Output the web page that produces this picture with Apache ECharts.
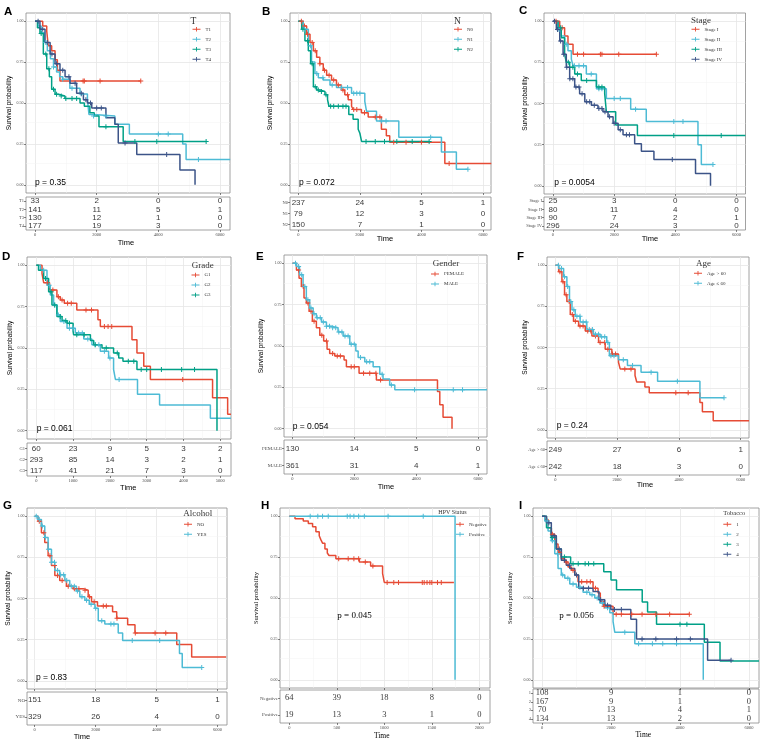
<!DOCTYPE html>
<html><head><meta charset="utf-8">
<script src="https://cdn.jsdelivr.net/npm/echarts@6/dist/echarts.min.js"></script>
<style>html,body{margin:0;padding:0;background:#fff}#c{width:760px;height:741px}</style>
</head><body><div id="c"></div>
<script>
// ---------------- DATA ----------------
const Y_TICKS = [0, 0.25, 0.5, 0.75, 1];
const T6000 = [0, 2000, 4000, 6000];
const T5000 = [0, 1000, 2000, 3000, 4000, 5000];
const T2000 = [0, 500, 1000, 1500, 2000];

// A: T
const A_groups = ['T1', 'T2', 'T3', 'T4'];
const A_T1 = [[0,1],[250,0.97],[380,0.94],[430,0.85],[540,0.82],[650,0.765],[725,0.70],[810,0.634],[3430,0.634]];
const A_T2 = [[0,1],[100,0.97],[200,0.93],[300,0.87],[400,0.82],[500,0.77],[600,0.72],[700,0.69],[800,0.66],[900,0.645],[1130,0.59],[1460,0.555],[1700,0.52],[1750,0.43],[1900,0.42],[2590,0.37],[3060,0.31],[4790,0.25],[4900,0.155],[6330,0.155]];
const A_T3 = [[0,1],[80,0.96],[160,0.925],[270,0.80],[380,0.71],[465,0.66],[540,0.584],[650,0.553],[760,0.543],[970,0.527],[1460,0.50],[1600,0.48],[1780,0.44],[1920,0.42],[2075,0.355],[2860,0.265],[5550,0.265]];
const A_T4 = [[0,1],[160,0.95],[325,0.87],[490,0.80],[650,0.74],[810,0.70],[975,0.66],[1135,0.62],[1350,0.56],[1570,0.52],[1700,0.50],[1840,0.47],[2300,0.41],[2590,0.37],[2700,0.255],[3300,0.185],[4700,0.09],[5190,0]];
const A_T1_c = [1560,1600,2110,3430];
const A_T2_c = [350,600,900,1200,1500,1900,2300,4000,4320,5300];
const A_T3_c = [200,350,450,600,700,850,1000,1200,1350,2300,3240,3950,5550];
const A_T4_c = [100,250,400,550,700,900,1100,1300,1500,1650,1800,2000,2150,2920,4270];
const A_risk = [[33,2,0,0],[141,11,5,1],[130,12,1,0],[177,19,3,0]];

// B: N
const B_groups = ['N0', 'N1', 'N2'];
const B_N0 = [[0,1],[160,0.97],[270,0.92],[380,0.87],[490,0.82],[595,0.78],[700,0.74],[810,0.70],[920,0.67],[1080,0.64],[1240,0.61],[1400,0.58],[1510,0.55],[1620,0.52],[1730,0.48],[1780,0.46],[2050,0.44],[2270,0.415],[2700,0.34],[2860,0.30],[2970,0.26],[4760,0.13],[6270,0.13]];
const B_N1 = [[0,1],[160,0.95],[325,0.85],[430,0.75],[540,0.68],[650,0.655],[810,0.64],[1030,0.61],[1240,0.595],[1730,0.56],[2160,0.51],[2215,0.45],[2540,0.39],[3265,0.29],[4650,0.20],[5135,0.095],[5510,0.095]];
const B_N2 = [[0,1],[110,0.95],[215,0.88],[325,0.82],[400,0.74],[490,0.60],[595,0.58],[700,0.57],[865,0.55],[950,0.52],[995,0.48],[1640,0.43],[1780,0.40],[1945,0.34],[2000,0.315],[2055,0.265],[4250,0.265]];
const B_N0_c = [100,200,300,450,550,700,850,1000,1150,1300,1450,1600,1800,1900,2150,2500,2650,3100,3500,4000,4900];
const B_N1_c = [200,400,600,800,1100,1400,1600,1800,1900,2000,2700,2850,4300,5510];
const B_N2_c = [150,300,450,550,650,750,900,1050,1150,1300,1450,1550,2200,2500,2800,3200,3700,4250];
const B_risk = [[237,24,5,1],[79,12,3,0],[150,7,1,0]];

// C: Stage
const C_groups = ['Stage I', 'Stage II', 'Stage III', 'Stage IV'];
const C_S1 = [[0,1],[220,0.96],[380,0.91],[490,0.86],[655,0.80],[3380,0.80]];
const C_S2 = [[0,1],[165,0.95],[270,0.91],[380,0.86],[490,0.82],[600,0.77],[655,0.73],[1090,0.68],[1420,0.59],[1745,0.53],[2540,0.465],[3050,0.39],[4740,0.25],[4850,0.13],[5230,0.13]];
const C_S3 = [[0,1],[165,0.96],[270,0.90],[380,0.80],[435,0.75],[545,0.72],[710,0.68],[925,0.64],[1420,0.60],[1690,0.56],[1745,0.45],[2050,0.37],[2760,0.305],[6290,0.305]];
const C_S4 = [[0,1],[110,0.95],[220,0.88],[330,0.80],[435,0.72],[545,0.65],[710,0.60],[870,0.56],[1040,0.51],[1255,0.49],[1470,0.47],[1635,0.45],[1800,0.42],[1965,0.38],[2130,0.34],[2290,0.31],[2670,0.255],[2890,0.21],[3300,0.16],[4660,0.075],[5150,0]];
const C_S1_c = [100,300,800,1000,1550,1600,2150,3380];
const C_S2_c = [200,450,700,850,1000,1250,1500,1600,2000,2200,2700,3950,4250,5230];
const C_S3_c = [250,500,650,800,1100,1500,1600,3950,5500];
const C_S4_c = [50,150,250,350,450,550,650,750,850,950,1100,1200,1350,1500,1600,1700,1850,2000,2200,2400,2500,3900];
const C_risk = [[25,3,0,0],[80,11,4,0],[90,7,2,1],[296,24,3,0]];

// D: Grade
const D_groups = ['G1', 'G2', 'G3'];
const D_G1 = [[0,1],[155,0.95],[200,0.895],[360,0.85],[560,0.81],[650,0.79],[760,0.77],[1100,0.73],[1675,0.67],[1740,0.63],[2600,0.55],[2735,0.47],[2920,0.39],[3100,0.31],[4790,0.20],[5200,0.10],[5290,0.10]];
const D_G2 = [[0,1],[110,0.97],[290,0.88],[380,0.82],[470,0.76],[560,0.70],[650,0.66],[835,0.62],[1060,0.59],[1290,0.555],[1510,0.52],[1740,0.48],[1965,0.44],[2100,0.37],[2150,0.31],[2750,0.22],[3350,0.155],[4730,0.075],[5290,0.075]];
const D_G3 = [[0,1],[60,0.97],[200,0.92],[335,0.84],[425,0.76],[560,0.69],[700,0.665],[835,0.65],[1000,0.60],[1015,0.58],[1470,0.545],[1560,0.52],[1785,0.50],[2100,0.47],[2240,0.44],[2355,0.42],[2735,0.37],[4910,0]];
const D_G1_c = [300,450,600,700,850,950,1350,1500,1850,1950,2050,3980];
const D_G2_c = [200,350,500,600,750,900,1000,1150,1250,1400,1600,1700,1850,2000,2250];
const D_G3_c = [250,400,500,650,800,900,1100,1300,1600,1900,2200,2500,2650,2850,3000,3400,3950,4300];
const D_risk = [[60,23,9,5,3,2],[293,85,14,3,2,1],[117,41,21,7,3,0]];

// E: Gender
const E_groups = ['FEMALE', 'MALE'];
const E_F = [[0,1],[130,0.96],[215,0.91],[290,0.86],[375,0.79],[450,0.76],[540,0.71],[645,0.65],[775,0.61],[885,0.565],[1010,0.53],[1120,0.48],[1205,0.455],[1370,0.44],[1670,0.415],[1745,0.375],[2155,0.335],[2715,0.295],[4690,0.225],[4765,0.145],[4870,0.07],[5160,0]];
const E_M = [[0,1],[130,0.98],[230,0.93],[345,0.86],[450,0.78],[560,0.73],[670,0.695],[775,0.67],[940,0.645],[1100,0.62],[1260,0.61],[1475,0.585],[1640,0.56],[1855,0.51],[2050,0.47],[2125,0.43],[2340,0.405],[2610,0.375],[2825,0.33],[2930,0.30],[3145,0.265],[3310,0.235],[6290,0.235]];
const E_F_c = [200,350,500,600,700,950,1100,1300,1450,1550,1900,2000,2300,2500,2700,2850];
const E_M_c = [100,200,300,400,500,600,700,800,900,1000,1100,1200,1300,1400,1500,1600,1700,1800,1900,2000,2200,2400,2500,2900,3200,3950,5200,5500];
const E_risk = [[130,14,5,0],[361,31,4,1]];

// F: Age
const F_groups = ['Age > 60', 'Age \u2264 60'];
const F_O = [[0,1],[110,0.96],[215,0.90],[300,0.82],[375,0.78],[485,0.70],[590,0.66],[755,0.63],[970,0.60],[1185,0.57],[1400,0.53],[1615,0.49],[1830,0.46],[2045,0.41],[2100,0.37],[2580,0.33],[2635,0.29],[2900,0.26],[3040,0.225],[4680,0.165],[4760,0.11],[5110,0.055],[6270,0.055]];
const F_Y = [[0,1],[110,0.98],[270,0.93],[375,0.87],[460,0.78],[540,0.73],[645,0.69],[805,0.655],[1020,0.61],[1235,0.58],[1450,0.565],[1665,0.53],[1750,0.45],[2045,0.425],[2335,0.39],[2775,0.35],[3310,0.295],[4680,0.195],[5460,0.195]];
const F_O_c = [150,250,350,450,550,650,800,900,1050,1150,1300,1450,1600,1700,1850,1950,2250,2450,3900,4300];
const F_Y_c = [100,200,300,400,500,600,700,800,900,1000,1100,1200,1300,1400,1500,1600,1700,1800,1900,2200,2500,3100,3950,5460];
const F_risk = [[249,27,6,1],[242,18,3,0]];

// G: Alcohol
const G_groups = ['NO', 'YES'];
const G_N = [[0,1],[110,0.97],[220,0.90],[330,0.84],[440,0.76],[550,0.70],[660,0.64],[820,0.61],[1040,0.575],[1260,0.56],[1590,0.55],[1755,0.51],[1865,0.48],[2060,0.455],[2555,0.42],[2690,0.38],[3050,0.34],[3290,0.29],[4660,0.22],[5150,0.145],[6280,0.145]];
const G_Y = [[0,1],[110,0.98],[220,0.94],[330,0.87],[440,0.80],[550,0.72],[660,0.67],[820,0.645],[990,0.61],[1150,0.575],[1370,0.545],[1480,0.51],[1645,0.49],[1790,0.465],[1975,0.44],[2085,0.365],[2300,0.345],[2740,0.29],[2885,0.245],[4750,0.165],[4840,0.08],[5480,0.08]];
const G_N_c = [150,300,500,650,750,900,1100,1300,1450,1650,1800,1950,2250,2350,2700,3300,3950,4300];
const G_Y_c = [50,150,250,350,450,550,650,750,850,950,1050,1200,1300,1400,1550,1700,1850,2000,2200,2500,2600,3200,4100,5480];
const G_risk = [[151,18,5,1],[329,26,4,0]];

// H: HPV Status
const H_groups = ['Negative', 'Positive'];
const H_Neg = [[0,1],[60,0.985],[147,0.97],[200,0.955],[245,0.935],[280,0.905],[315,0.88],[333,0.855],[350,0.835],[375,0.80],[400,0.775],[418,0.76],[490,0.74],[737,0.72],[856,0.695],[982,0.65],[1000,0.595],[1733,0.595]];
const H_Pos = [[0,1],[1745,0]];
const H_Neg_c = [520,620,680,730,800,880,1030,1100,1150,1400,1420,1450,1480,1500,1560,1600];
const H_Pos_c = [220,300,350,410,610,640,680,730,790,1040,1410];
const H_risk = [[64,39,18,8,0],[19,13,3,1,0]];

// I: Tobacco
const I_groups = ['1', '2', '3', '4'];
const I_1 = [[0,1],[80,0.98],[175,0.93],[270,0.89],[370,0.83],[465,0.78],[560,0.74],[660,0.72],[755,0.69],[850,0.67],[950,0.64],[1045,0.60],[1480,0.56],[1625,0.53],[1690,0.48],[1780,0.45],[2060,0.40],[4270,0.40]];
const I_2 = [[0,1],[80,0.97],[175,0.91],[270,0.85],[370,0.77],[465,0.68],[560,0.64],[660,0.62],[805,0.585],[1000,0.565],[1190,0.535],[1385,0.52],[1530,0.50],[1675,0.47],[1820,0.44],[1965,0.41],[2060,0.355],[2110,0.29],[2690,0.22],[4675,0]];
const I_3 = [[0,1],[130,0.93],[270,0.87],[415,0.80],[560,0.75],[830,0.71],[1790,0.66],[2000,0.61],[2160,0.55],[2905,0.475],[3060,0.415],[3320,0.34],[4705,0.23],[5160,0.115],[6290,0.115]];
const I_4 = [[0,1],[130,0.96],[270,0.88],[415,0.80],[560,0.73],[705,0.70],[805,0.68],[950,0.64],[1065,0.56],[1480,0.54],[1650,0.49],[1820,0.455],[1995,0.43],[2575,0.37],[2740,0.25],[4800,0.12],[5480,0.12]];
const I_1_c = [300,500,700,900,1150,1300,1400,1550,1800,2150,2300,2600,2900,3300,3700,4270];
const I_2_c = [150,300,450,600,750,900,1100,1300,1450,1600,1750,1900,2400,2800,3200,3500,3900];
const I_3_c = [300,650,900,1050,1250,1350,1500,4000,4200];
const I_4_c = [200,350,500,650,800,1000,1200,1350,1700,1900,2100,2300,2900,3300,3900,4300,5480];
const I_risk = [[108,9,1,0],[167,9,1,0],[70,13,4,1],[134,13,2,0]];

// ---------------- STYLE / LAYOUT ----------------
const COLORS = ['#E64B35', '#4DBBD5', '#00A087', '#3C5488'];
const SANS = '"Liberation Sans", Arial, sans-serif';
const SERIF = '"Liberation Serif", "Times New Roman", serif';
const BORDER = '#8a8a8a';
const PLUS = 'path://M4,0H6V4H10V6H6V10H4V6H0V4H4Z';
const LEG_ICON = 'path://M0,4H18V6H0Z M8,0H10V10H8Z';

const panels = [
  {letter:'A', lpos:[4,6], plot:[26,13,204,180], table:[26,197,204,33], x:[-292,6324], ticks:T6000,
   title:'T', tpos:[190.5,21.7], tsize:9.5, leg:[192.5,26.3], groups:A_groups,
   curves:[A_T1,A_T2,A_T3,A_T4], cens:[A_T1_c,A_T2_c,A_T3_c,A_T4_c], risk:A_risk,
   p:'p = 0.35', ppos:[35,182.7], ylab:[9,103], time:[126,242.7], serif:false, rowFont:4.5},
  {letter:'B', lpos:[262,6], plot:[290,13,201,180], table:[290,197,201,33], x:[-270,6260], ticks:T6000,
   title:'N', tpos:[454,21.7], tsize:9.5, leg:[454,26.3], groups:B_groups,
   curves:[B_N0,B_N1,B_N2], cens:[B_N0_c,B_N1_c,B_N2_c], risk:B_risk,
   p:'p = 0.072', ppos:[299,182.7], ylab:[270.7,103], time:[385,239.3], serif:false, rowFont:4.5},
  {letter:'C', lpos:[519,5], plot:[544,13,201.5,181], table:[544,197,201.5,33], x:[-294,6294], ticks:T6000,
   title:'Stage', tpos:[691,20.7], tsize:9, leg:[691.5,26.3], groups:C_groups,
   curves:[C_S1,C_S2,C_S3,C_S4], cens:[C_S1_c,C_S2_c,C_S3_c,C_S4_c], risk:C_risk,
   p:'p = 0.0054', ppos:[554.3,182.7], ylab:[525.7,103.5], time:[650,239.3], serif:false, rowFont:4.5},
  {letter:'D', lpos:[2,251], plot:[27,257,204,182], table:[27,443,204,33], x:[-253,5291], ticks:T5000,
   title:'Grade', tpos:[191.7,265.7], tsize:9, leg:[191.5,272], groups:D_groups,
   curves:[D_G1,D_G2,D_G3], cens:[D_G1_c,D_G2_c,D_G3_c], risk:D_risk,
   p:'p = 0.061', ppos:[36.7,429], ylab:[10,348], time:[128.3,487.7], serif:false, rowFont:4.5},
  {letter:'E', lpos:[256,251], plot:[284,255,203,182], table:[284,440,203,34], x:[-272,6291], ticks:T6000,
   title:'Gender', tpos:[432.7,263.3], tsize:9, leg:[431,271], groups:E_groups,
   curves:[E_F,E_M], cens:[E_F_c,E_M_c], risk:E_risk,
   p:'p = 0.054', ppos:[292.7,426.7], ylab:[261.7,346], time:[386,486.7], serif:false, rowFont:5},
  {letter:'F', lpos:[517,251], plot:[547,257,202,181], table:[547,441,202,34], x:[-268,6268], ticks:T6000,
   title:'Age', tpos:[696,263.3], tsize:9, leg:[694,270.3], groups:F_groups,
   curves:[F_O,F_Y], cens:[F_O_c,F_Y_c], risk:F_risk,
   p:'p = 0.24', ppos:[556.7,425.7], ylab:[525,347.5], time:[645,485.3], serif:false, rowFont:4.5},
  {letter:'G', lpos:[3,500], plot:[27,508,200,181], table:[27,692,200,33], x:[-253,6309], ticks:T6000,
   title:'Alcohol', tpos:[183.3,513.3], tsize:9, leg:[184,521.3], groups:G_groups,
   curves:[G_N,G_Y], cens:[G_N_c,G_Y_c], risk:G_risk,
   p:'p = 0.83', ppos:[36,677.3], ylab:[8.3,598.5], time:[82,736.7], serif:false, rowFont:5},
  {letter:'H', lpos:[261,500], plot:[280,508,210,180], table:[280,690,210,33], x:[-98,2113], ticks:T2000,
   title:'HPV Status', tpos:[438.3,512.7], tsize:6, leg:[456,521.3], groups:H_groups,
   curves:[H_Neg,H_Pos], cens:[H_Neg_c,H_Pos_c], risk:H_risk,
   p:'p = 0.045', ppos:[337.3,616], ylab:[256.7,598], time:[381.7,736], serif:true, rowFont:5},
  {letter:'I', lpos:[519,500], plot:[533,508,226,180], table:[533,689,226,34], x:[-261,6290], ticks:T6000,
   title:'Tobacco', tpos:[723.3,513.3], tsize:6.5, leg:[723.3,521.3], groups:I_groups,
   curves:[I_1,I_2,I_3,I_4], cens:[I_1_c,I_2_c,I_3_c,I_4_c], risk:I_risk,
   p:'p = 0.056', ppos:[559.3,615.7], ylab:[510,598], time:[643.3,735], serif:true, rowFont:4.5}
];

function survAt(curve, t) {
  let s = curve[0][1];
  for (const [ti, si] of curve) { if (ti <= t) s = si; else break; }
  return s;
}
function minorOf(ticks, lo, hi) {
  const out = [];
  for (let i = 0; i < ticks.length - 1; i++) out.push((ticks[i] + ticks[i + 1]) / 2);
  const step = ticks[1] - ticks[0];
  out.push(ticks[ticks.length - 1] + step / 2);
  return out.filter(v => v > lo && v < hi);
}

const grids = [], xAxes = [], yAxes = [], series = [], legends = [], graphics = [];
const MAJOR = {color: '#e6e6e6', width: 0.8, type: 'solid'};
const MINOR = {color: '#f2f2f2', width: 0.5, type: 'solid'};

function gridOf(r) {
  return {left: r[0], top: r[1], width: r[2], height: r[3], show: true, borderColor: BORDER,
          borderWidth: 0.8, backgroundColor: '#fff', containLabel: false, outerBoundsMode: 'none'};
}
function txt(text, x, y, size, family, opts) {
  opts = opts || {};
  graphics.push({type: 'text', x: x, y: y, rotation: opts.rot || 0, silent: true, z: 100,
    style: {text: text, fontSize: size, fontFamily: family, fontWeight: opts.weight || 'normal',
      fill: opts.color || '#000', textAlign: opts.align || 'left', align: opts.align || 'left',
      textVerticalAlign: opts.valign || 'middle', verticalAlign: opts.valign || 'middle'}});
}

panels.forEach(P => {
  const gi = grids.length, xi = xAxes.length, yi = yAxes.length;
  const fam = P.serif ? SERIF : SANS;
  grids.push(gridOf(P.plot));
  grids.push(gridOf(P.table));
  const tickStyle = {show: true, length: 2, lineStyle: {color: '#333', width: 0.6}};
  xAxes.push({type: 'value', gridIndex: gi, min: P.x[0], max: P.x[1],
    axisLine: {show: false, onZero: false},
    axisTick: Object.assign({customValues: P.ticks}, tickStyle),
    axisLabel: {show: false, customValues: P.ticks}, splitLine: {show: false}});
  xAxes.push({type: 'value', gridIndex: gi + 1, min: P.x[0], max: P.x[1],
    axisLine: {show: false, onZero: false},
    axisTick: Object.assign({customValues: P.ticks}, tickStyle),
    axisLabel: {show: true, customValues: P.ticks, formatter: v => String(Math.round(v)),
      fontSize: 4.5, fontFamily: SERIF, color: '#4d4d4d', margin: 2.5},
    splitLine: {show: false}});
  yAxes.push({type: 'value', gridIndex: gi, min: -0.05, max: 1.05,
    axisLine: {show: false, onZero: false},
    axisTick: Object.assign({customValues: Y_TICKS}, tickStyle),
    axisLabel: {show: true, customValues: Y_TICKS, formatter: v => Number(v).toFixed(2),
      fontSize: 4, fontFamily: SERIF, color: '#4d4d4d', margin: 2.5},
    splitLine: {show: false}});
  yAxes.push({type: 'category', gridIndex: gi + 1, data: P.groups, inverse: true,
    axisLine: {show: false, onZero: false},
    axisTick: {show: true, alignWithLabel: true, length: 2, lineStyle: {color: '#333', width: 0.6}},
    axisLabel: {show: true, fontSize: P.rowFont, fontFamily: SERIF, color: '#4d4d4d', margin: 2},
    splitLine: {show: false}});

  const gridLines = [];
  P.ticks.forEach(v => gridLines.push({xAxis: v, lineStyle: MAJOR}));
  minorOf(P.ticks, P.x[0], P.x[1]).forEach(v => gridLines.push({xAxis: v, lineStyle: MINOR}));
  Y_TICKS.forEach(v => gridLines.push({yAxis: v, lineStyle: MAJOR}));
  minorOf(Y_TICKS, -0.05, 1.05).forEach(v => gridLines.push({yAxis: v, lineStyle: MINOR}));

  P.groups.forEach((g, k) => {
    const col = COLORS[k];
    const s = {type: 'line', name: g, xAxisIndex: xi, yAxisIndex: yi, data: P.curves[k], step: 'end',
      showSymbol: false, symbol: 'none', z: 3, silent: true,
      lineStyle: {color: col, width: 1.5}, itemStyle: {color: col}};
    if (k === 0) {
      s.markLine = {silent: true, z: 1, symbol: ['none', 'none'], label: {show: false},
        animation: false, emphasis: {disabled: true}, data: gridLines};
    }
    series.push(s);
    series.push({type: 'scatter', name: g, xAxisIndex: xi, yAxisIndex: yi, z: 4, silent: true,
      data: P.cens[k].map(t => [t, survAt(P.curves[k], t)]),
      symbol: PLUS, symbolSize: 5, itemStyle: {color: col, opacity: 1}});
  });

  const rdata = [];
  P.groups.forEach((g, k) => P.ticks.forEach((t, i) => rdata.push([t, g, P.risk[k][i]])));
  series.push({type: 'scatter', xAxisIndex: xi + 1, yAxisIndex: yi + 1, data: rdata, silent: true,
    symbolSize: 1, itemStyle: {color: 'rgba(0,0,0,0)'},
    label: {show: true, position: 'inside', formatter: p => String(p.value[2]),
      fontSize: P.serif ? 8.5 : 8, fontFamily: fam, color: '#000'}});

  legends.push({data: P.groups, orient: 'vertical', left: P.leg[0], top: P.leg[1], padding: 0,
    itemWidth: 8, itemHeight: 6, itemGap: 4, icon: LEG_ICON, selectedMode: false,
    textStyle: {fontSize: 5, fontFamily: SERIF, color: '#333', lineHeight: 6}});

  txt(P.letter, P.lpos[0], P.lpos[1], 11.5, 'Arial, "Liberation Sans", sans-serif', {weight: 'bold', valign: 'top'});
  txt(P.title, P.tpos[0], P.tpos[1], P.tsize, SERIF, {color: '#333'});
  txt(P.p, P.ppos[0], P.ppos[1], P.serif ? 9 : 8.5, fam, {});
  txt('Survival probability', P.ylab[0], P.ylab[1], 6.5, fam, {rot: Math.PI / 2, align: 'center'});
  txt('Time', P.time[0], P.time[1], 7.5, fam, {align: 'center'});
});

const chart = echarts.init(document.getElementById('c'), null, {renderer: 'canvas', width: 760, height: 741});
chart.setOption({
  backgroundColor: '#fff',
  animation: false,
  grid: grids, xAxis: xAxes, yAxis: yAxes, series: series, legend: legends,
  graphic: {elements: graphics}
});
</script>
</body></html>
